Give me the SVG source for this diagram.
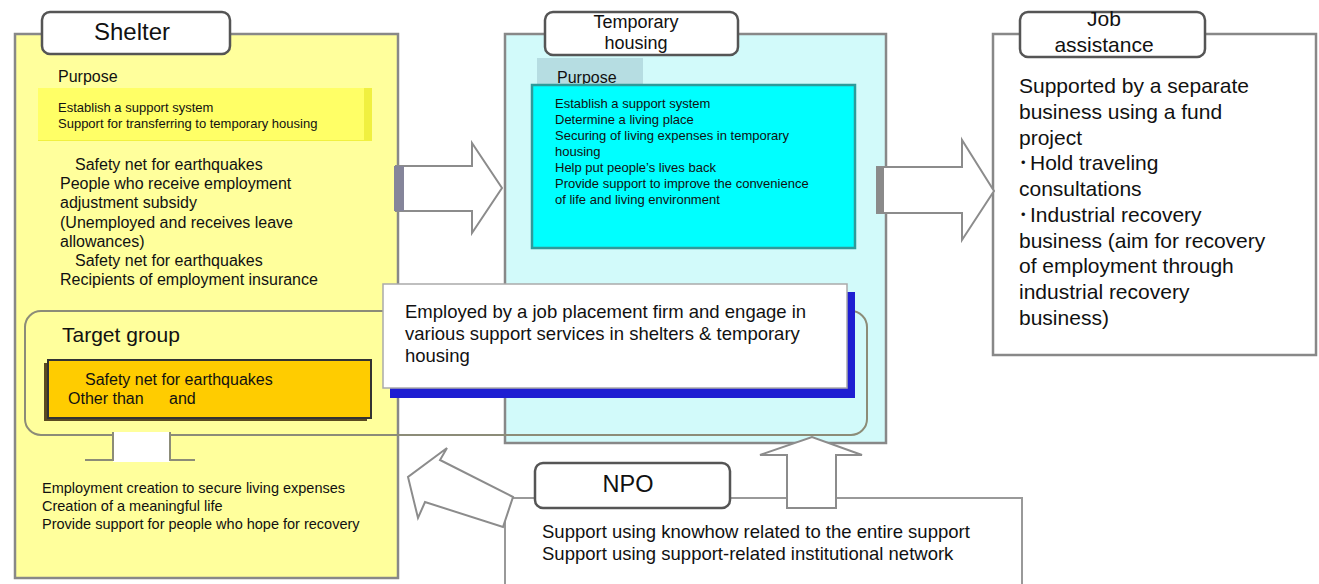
<svg xmlns="http://www.w3.org/2000/svg" width="1319" height="584" viewBox="0 0 1319 584">
<style>
text{font-family:"Liberation Sans",Arial,"Noto Sans CJK JP",sans-serif;fill:#111}
.panel{stroke:#888;stroke-width:2.5}
.tab{fill:#fff;stroke:#555;stroke-width:2.5}
.arrow{fill:#fff;stroke:#8c8c8c;stroke-width:2}
.s13{font-size:13px}
.s14{font-size:14.5px}
.s16{font-size:16px}
.s18{font-size:18.5px}
.s21{font-size:21px}
.c{text-anchor:middle}
</style>
<rect width="1319" height="584" fill="#fff"/>

<g id="shelter">
  <rect class="panel" x="15" y="34" width="383" height="544" fill="#ffff9c"/>
  <rect class="tab" x="42" y="12" width="188" height="42" rx="8" stroke="#444" stroke-width="3"/>
  <text class="c" x="132" y="40" font-size="24">Shelter</text>
  <text class="s16" x="58" y="82" font-size="15.5">Purpose</text>
  <rect x="38" y="88" width="334" height="53" fill="#f0f040"/>
  <rect x="38" y="88" width="326" height="52" fill="#ffff66"/>
  <text class="s13" x="58" y="112">Establish a support system</text>
  <text class="s13" x="58" y="128">Support for transferring to temporary housing</text>
  <text class="s16" x="75" y="170">Safety net for earthquakes</text>
  <text class="s16" x="60" y="189.2">People who receive employment</text>
  <text class="s16" x="60" y="208.4">adjustment subsidy</text>
  <text class="s16" x="60" y="227.6">(Unemployed and receives leave</text>
  <text class="s16" x="60" y="246.8">allowances)</text>
  <text class="s16" x="75" y="266">Safety net for earthquakes</text>
  <text class="s16" x="60" y="285.2">Recipients of employment insurance</text>
  <text x="62" y="342" font-size="21">Target group</text>
  <rect x="44" y="363" width="323" height="58" fill="#5a4a20"/>
  <rect x="48" y="360" width="323" height="58" fill="#ffcc00" stroke="#333" stroke-width="2"/>
  <text class="s16" x="85" y="385">Safety net for earthquakes</text>
  <text class="s16" y="404"><tspan x="68">Other than</tspan><tspan x="169">and</tspan></text>
  <text class="s14" x="42" y="493">Employment creation to secure living expenses</text>
  <text class="s14" x="42" y="511">Creation of a meaningful life</text>
  <text class="s14" x="42" y="529">Provide support for people who hope for recovery</text>
</g>

<g id="temporary-housing">
  <rect class="panel" x="505" y="34" width="381" height="409" fill="#d2fafa" stroke="#7f9797"/>
  <rect class="tab" x="545" y="12" width="193" height="43" rx="8"/>
  <text class="c" x="636" y="28" font-size="18">Temporary</text>
  <text class="c" x="636" y="49" font-size="18">housing</text>
  <rect x="537" y="58" width="106" height="29" fill="#b6dde2"/>
  <text x="557" y="83" font-size="16">Purpose</text>
  <rect x="532" y="85" width="323" height="163" fill="#00ffff" stroke="#2f9a9a" stroke-width="2.5"/>
  <text class="s13" x="555" y="108">Establish a support system</text>
  <text class="s13" x="555" y="124">Determine a living place</text>
  <text class="s13" x="555" y="140">Securing of living expenses in temporary</text>
  <text class="s13" x="555" y="156">housing</text>
  <text class="s13" x="555" y="172">Help put people’s lives back</text>
  <text class="s13" x="555" y="188">Provide support to improve the convenience</text>
  <text class="s13" x="555" y="204">of life and living environment</text>
</g>

<g id="target-group-frame">
  <rect x="25" y="311" width="842" height="124" rx="16" fill="none" stroke="#8c8c78" stroke-width="2"/>
</g>

<g id="employed">
  <rect x="390" y="292" width="465" height="106" fill="#1e1ed2"/>
  <rect x="383" y="284" width="464" height="104" fill="#fff" stroke="#aaa" stroke-width="1.5"/>
  <text class="s18" x="405" y="318">Employed by a job placement firm and engage in</text>
  <text class="s18" x="405" y="340">various support services in shelters &amp; temporary</text>
  <text class="s18" x="405" y="362">housing</text>
</g>

<g id="job-assistance">
  <rect class="panel" x="993" y="34" width="323" height="321" fill="#fff" stroke="#999"/>
  <rect class="tab" x="1020" y="12" width="185" height="45" rx="8" stroke="#999"/>
  <text class="c s21" x="1104" y="26">Job</text>
  <text class="c s21" x="1104" y="52">assistance</text>
  <text class="s21" x="1019" y="93">Supported by a separate</text>
  <text class="s21" x="1019" y="119">business using a fund</text>
  <text class="s21" x="1019" y="145">project</text>
  <text class="s21" y="170"><tspan x="1018">･</tspan><tspan x="1030">Hold traveling</tspan></text>
  <text class="s21" x="1019" y="196">consultations</text>
  <text class="s21" y="222"><tspan x="1018">･</tspan><tspan x="1030">Industrial recovery</tspan></text>
  <text class="s21" x="1019" y="248">business (aim for recovery</text>
  <text class="s21" x="1019" y="273">of employment through</text>
  <text class="s21" x="1019" y="299">industrial recovery</text>
  <text class="s21" x="1019" y="325">business)</text>
</g>

<g id="npo">
  <rect x="505" y="498" width="517" height="110" fill="#fff" stroke="#999" stroke-width="2"/>
  <rect class="tab" x="535" y="463" width="195" height="45" rx="8" stroke="#999"/>
  <text class="c" x="628" y="492" font-size="23.5">NPO</text>
  <text class="s18" x="542" y="538">Support using knowhow related to the entire support</text>
  <text class="s18" x="542" y="560">Support using support-related institutional network</text>
</g>

<g id="connectors">
  <polygon class="arrow" points="396,166 472,166 472,143 502,188 472,233 472,211 396,211"/>
  <rect x="394" y="166" width="10" height="45" fill="#85859a"/>
  <polygon class="arrow" points="877,167 962,167 962,140 994,191 962,240 962,213 877,213"/>
  <rect x="876" y="167" width="8" height="46" fill="#8a8a8a"/>
  <rect x="113" y="432" width="57" height="30" fill="#fff"/>
  <path d="M85 460 H113 V432 M170 432 V460 H195" fill="none" stroke="#8c8c78" stroke-width="2"/>
  <polygon class="arrow" points="787,508 787,455 760,455 812,437 862,455 836,455 836,508"/>
  <polygon class="arrow" points="513,497 440,460 447,448 408,477 418,518 425,502 503,527"/>
</g>
</svg>
